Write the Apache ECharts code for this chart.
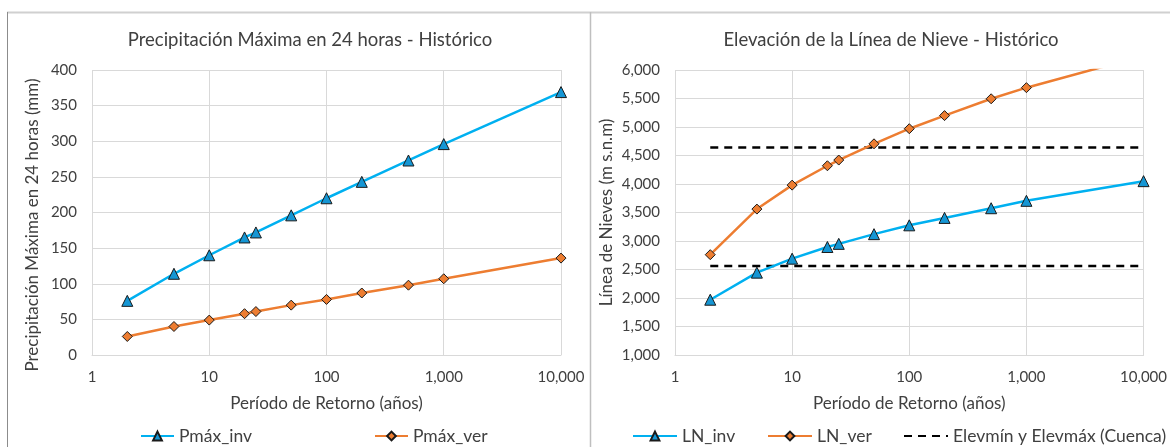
<!DOCTYPE html>
<html>
<head>
<meta charset="utf-8">
<script src="https://cdn.jsdelivr.net/npm/echarts@6/dist/echarts.min.js"></script>
<style>
html,body{margin:0;padding:0;background:#fff;}
#c{width:1170px;height:447px;}
</style>
</head>
<body>
<div id="c"></div>
<script>
// ---- data ----
const periods = [2, 5, 10, 20, 25, 50, 100, 200, 500, 1000, 10000];
const pmaxInv = [76, 114, 140, 165, 172, 196, 220, 243, 273, 296, 369];
const pmaxVer = [26, 40, 49, 58, 61, 70, 78, 87, 98, 107, 136];
const lnInv = [1970, 2445, 2690, 2895, 2950, 3120, 3275, 3405, 3575, 3705, 4050];
const lnVer = [2760, 3560, 3980, 4320, 4420, 4705, 4970, 5200, 5495, 5690, 6250];
const elevRange = [2560, 4640];           // Elevmín, Elevmáx (Cuenca)
const elevSpan = [2, 10000];              // x extent of the reference lines

const FONT = 'Lato';
const TXT = '#404040';
const GRIDC = '#d9d9d9';
const BLUE = '#00B0F0', BLUEM = '#1596D4';
const ORANGE = '#ED7D31';

const pairs = (xs, ys) => xs.map((x, i) => [x, ys[i]]);
const fmt = v => Math.round(v).toLocaleString('en-US');

function xAxis(gi) {
  return {
    type: 'log', logBase: 10, min: 1, max: 10000, gridIndex: gi,
    name: 'Período de Retorno (años)', nameLocation: 'middle', nameGap: 40,
    nameTextStyle: {fontFamily: FONT, fontSize: 17, color: TXT},
    axisLine: {lineStyle: {color: GRIDC, width: 1}},
    axisTick: {show: false},
    minorTick: {show: false},
    axisLabel: {fontFamily: FONT, fontSize: 15, color: TXT, margin: 15, formatter: fmt},
    splitLine: {show: true, lineStyle: {color: GRIDC, width: 1}}
  };
}
function yAxis(gi, min, max, interval, name, gap) {
  return {
    type: 'value', gridIndex: gi, min, max, interval,
    name, nameLocation: 'middle', nameGap: gap,
    nameTextStyle: {fontFamily: FONT, fontSize: 17, color: TXT},
    axisLine: {show: false}, axisTick: {show: false},
    axisLabel: {fontFamily: FONT, fontSize: 15, color: TXT, margin: 15, formatter: fmt},
    splitLine: {show: true, lineStyle: {color: GRIDC, width: 1}}
  };
}
function lineSeries(name, xi, data, color, mcolor, symbol, size) {
  return {
    name, type: 'line', xAxisIndex: xi, yAxisIndex: xi, data,
    symbol, symbolSize: size, showAllSymbol: true, clip: true,
    lineStyle: {color, width: 2.5},
    itemStyle: {color: mcolor, borderColor: '#1a1a1a', borderWidth: 1},
    emphasis: {disabled: true}, z: 3
  };
}
function legend(name, left, w) {
  return {
    data: [name], left, top: 422, itemWidth: w, itemHeight: 11, itemGap: 0,
    textStyle: {fontFamily: FONT, fontSize: 17.5, color: TXT},
    selectedMode: false
  };
}

const chart = echarts.init(document.getElementById('c'), null, {renderer: 'canvas'});
const elevName = 'Elevmín y Elevmáx (Cuenca)';
chart.setOption({
  animation: false,
  backgroundColor: '#fff',
  title: [
    {text: 'Precipitación Máxima en 24 horas - Histórico', left: 305, top: 26, textAlign: 'center',
     textStyle: {fontFamily: FONT, fontSize: 18.5, fontWeight: 'normal', color: TXT}},
    {text: 'Elevación de la Línea de Nieve - Histórico', left: 886, top: 26, textAlign: 'center',
     textStyle: {fontFamily: FONT, fontSize: 18.5, fontWeight: 'normal', color: TXT}}
  ],
  grid: [
    {left: 92, right: 1170 - 561, top: 70, bottom: 447 - 355},
    {left: 675, right: 1170 - 1144, top: 70, bottom: 447 - 355}
  ],
  xAxis: [xAxis(0), xAxis(1)],
  yAxis: [
    yAxis(0, 0, 400, 50, '', 49),
    yAxis(1, 1000, 6000, 500, 'Línea de Nieves (m s.n.m)', 60)
  ],
  legend: [
    legend('Pmáx_inv', 135, 33),
    legend('Pmáx_ver', 369, 33),
    legend('LN_inv', 627, 44),
    legend('LN_ver', 762, 44),
    legend(elevName, 898, 44)
  ],
  series: [
    lineSeries('Pmáx_inv', 0, pairs(periods, pmaxInv), BLUE, BLUEM, 'triangle', 11),
    lineSeries('Pmáx_ver', 0, pairs(periods, pmaxVer), ORANGE, ORANGE, 'diamond', 10),
    lineSeries('LN_inv', 1, pairs(periods, lnInv), BLUE, BLUEM, 'triangle', 11),
    lineSeries('LN_ver', 1, pairs(periods, lnVer), ORANGE, ORANGE, 'diamond', 10),
    ...elevRange.map(v => ({
      name: elevName, type: 'line', xAxisIndex: 1, yAxisIndex: 1,
      data: elevSpan.map(x => [x, v]), symbol: 'none',
      lineStyle: {color: '#000', width: 2.5, type: [8, 6]},
      itemStyle: {color: 'rgba(0,0,0,0)', borderWidth: 0},
      emphasis: {disabled: true}, z: 2
    }))
  ],
  graphic: [
    {type: 'line', shape: {x1: 7, y1: 12.5, x2: 1170, y2: 12.5}, style: {stroke: '#d0d0d0', lineWidth: 2}, silent: true},
    {type: 'line', shape: {x1: 7.5, y1: 12, x2: 7.5, y2: 447}, style: {stroke: '#8c8c8c', lineWidth: 1}, silent: true},
    {type: 'line', shape: {x1: 590.5, y1: 12, x2: 590.5, y2: 447}, style: {stroke: '#bfbfbf', lineWidth: 1.5}, silent: true},
    {type: 'text', x: 33, y: 225, rotation: Math.PI / 2, silent: true,
     style: {text: 'Precipitación Máxima en 24 horas (mm)', font: '17px Lato', fill: TXT,
             align: 'center', verticalAlign: 'middle', textAlign: 'center', textVerticalAlign: 'middle'}}
  ]
});
</script>
</body>
</html>
